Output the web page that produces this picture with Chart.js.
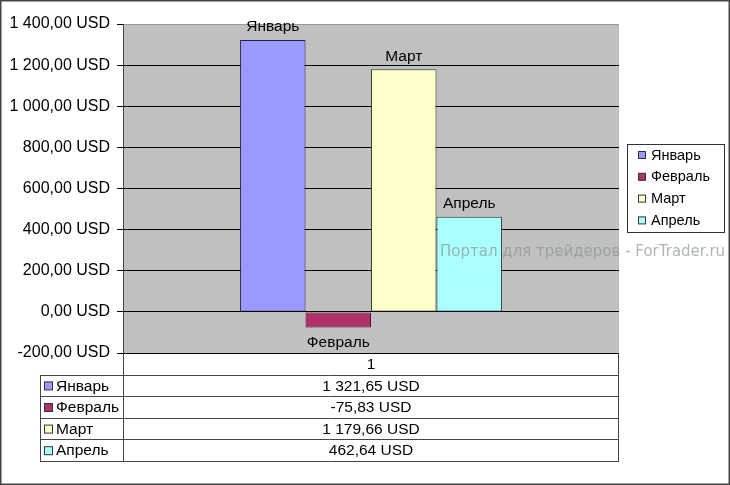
<!DOCTYPE html>
<html>
<head>
<meta charset="utf-8">
<script src="https://cdn.jsdelivr.net/npm/chart.js@4/dist/chart.umd.min.js"></script>
<style>
  html, body { margin: 0; padding: 0; background: #fff; }
  #wrap { width: 730px; height: 485px; position: relative; }
</style>
</head>
<body>
<div id="wrap"><canvas id="c"></canvas></div>
<script>
// chart data
const categories = ["1"];
const seriesNames = ["Январь", "Февраль", "Март", "Апрель"];
const seriesValues = [1321.65, -75.83, 1179.66, 462.64];
const yMin = -200, yMax = 1400, yStep = 200;
const watermark = "Портал для трейдеров - ForTrader.ru";

const colors = ["#9999ff", "#b0306a", "#ffffcc", "#aaffff"];
const borders = ["#202050", "#401020", "#404030", "#204040"];
const FONT = "'Liberation Sans', Arial, sans-serif";

function usd(v) {
  let s = Math.abs(v).toFixed(2).split(".");
  let int = s[0].replace(/\B(?=(\d{3})+(?!\d))/g, " ");
  return (v < 0 ? "-" : "") + int + "," + s[1] + " USD";
}

const extras = {
  id: "extras",
  beforeDraw(chart) {
    const { ctx, chartArea: a } = chart;
    ctx.save();
    ctx.fillStyle = "#fff";
    ctx.fillRect(0, 0, chart.width, chart.height);
    ctx.fillStyle = "#c0c0c0";
    ctx.fillRect(a.left, a.top, a.right - a.left, a.bottom - a.top);
    ctx.restore();
  },
  afterDatasetsDraw(chart) {
    // series names as labels on the bars
    const ctx = chart.ctx;
    ctx.save();
    ctx.font = "15.5px " + FONT;
    ctx.fillStyle = "#000";
    ctx.textAlign = "center";
    ctx.textBaseline = "middle";
    chart.data.datasets.forEach((ds, i) => {
      const bar = chart.getDatasetMeta(i).data[0];
      const v = ds.data[0];
      const y = v >= 0 ? bar.y - 13 : bar.y + 15;
      ctx.fillText(ds.label, bar.x, y);
    });
    ctx.restore();
  },
  afterDraw(chart) {
    const { ctx, chartArea: a } = chart;
    const ds = chart.data.datasets;
    ctx.save();

    // data table under the plot
    const tl = 40, rowH = 21.6, top = a.bottom;
    const rowsTop = top + rowH;
    const bottom = rowsTop + rowH * ds.length;
    ctx.strokeStyle = "#444";
    ctx.lineWidth = 1;
    ctx.beginPath();
    ctx.moveTo(a.left + 0.5, a.top);
    ctx.lineTo(a.left + 0.5, Math.round(bottom));
    ctx.moveTo(a.right - 0.5, top);
    ctx.lineTo(a.right - 0.5, Math.round(bottom) + 0.5);
    ctx.moveTo(tl + 0.5, Math.round(rowsTop));
    ctx.lineTo(tl + 0.5, Math.round(bottom) + 0.5);
    for (let r = 0; r <= ds.length; r++) {
      const y = Math.round(rowsTop + r * rowH) + 0.5;
      ctx.moveTo(tl, y);
      ctx.lineTo(a.right, y);
    }
    ctx.stroke();

    ctx.font = "15.5px " + FONT;
    ctx.fillStyle = "#000";
    ctx.textBaseline = "middle";
    ctx.textAlign = "center";
    const cx = (a.left + a.right) / 2;
    ctx.fillText(chart.data.labels[0], cx, top + rowH / 2 + 1);
    ds.forEach((d, i) => {
      const y = rowsTop + rowH * i + rowH / 2 + 1;
      ctx.textAlign = "center";
      ctx.fillStyle = "#000";
      ctx.fillText(usd(d.data[0]), cx, y);
      ctx.fillStyle = d.backgroundColor;
      ctx.fillRect(44.5, y - 4.5, 8, 8);
      ctx.strokeStyle = "#333";
      ctx.strokeRect(44.5, y - 4.5, 8, 8);
      ctx.fillStyle = "#000";
      ctx.textAlign = "left";
      ctx.fillText(d.label, 56, y);
    });

    // legend box
    const lx = 627.5, ly = 144.5, lw = 97, lh = 88;
    ctx.fillStyle = "#fff";
    ctx.fillRect(lx, ly, lw, lh);
    ctx.strokeStyle = "#333";
    ctx.strokeRect(lx, ly, lw, lh);
    ctx.font = "14.5px " + FONT;
    ctx.textAlign = "left";
    ds.forEach((d, i) => {
      const y = 155.5 + i * 21.8;
      ctx.fillStyle = d.backgroundColor;
      ctx.fillRect(638.5, y - 4, 7, 7);
      ctx.strokeStyle = "#333";
      ctx.strokeRect(638.5, y - 4, 7, 7);
      ctx.fillStyle = "#000";
      ctx.fillText(d.label, 651, y);
    });

    // watermark
    ctx.font = "15px 'DejaVu Sans', sans-serif";
    ctx.fillStyle = "rgba(140,150,150,0.7)";
    ctx.textAlign = "left";
    ctx.fillText(watermark, 440, 252);

    // outer frame
    ctx.strokeStyle = "#444";
    ctx.lineWidth = 1.5;
    ctx.strokeRect(0.75, 0.75, chart.width - 1.5, chart.height - 1.5);
    ctx.restore();
  }
};

new Chart(document.getElementById("c"), {
  type: "bar",
  data: {
    labels: categories,
    datasets: seriesNames.map((name, i) => ({
      label: name,
      data: [seriesValues[i]],
      backgroundColor: colors[i],
      borderColor: borders[i],
      borderWidth: 1,
      borderSkipped: false,
      categoryPercentage: 0.528,
      barPercentage: 1
    }))
  },
  options: {
    responsive: true,
    maintainAspectRatio: false,
    animation: false,
    layout: { padding: { top: 24, right: 111, bottom: 132, left: 0 } },
    plugins: { legend: { display: false }, tooltip: { enabled: false } },
    scales: {
      x: { display: false },
      y: {
        min: yMin,
        max: yMax,
        afterFit(scale) { scale.width = 123; },
        ticks: {
          stepSize: yStep,
          padding: 7,
          color: "#000",
          font: { family: FONT, size: 16 },
          callback: v => usd(v)
        },
        grid: {
          color: c => (c.tick && c.tick.value === yMax ? "#999" : "#000"),
          tickColor: "#000",
          lineWidth: 1,
          tickLength: 6
        },
        border: { display: true, color: "#000" }
      }
    }
  },
  plugins: [extras]
});
</script>
</body>
</html>
